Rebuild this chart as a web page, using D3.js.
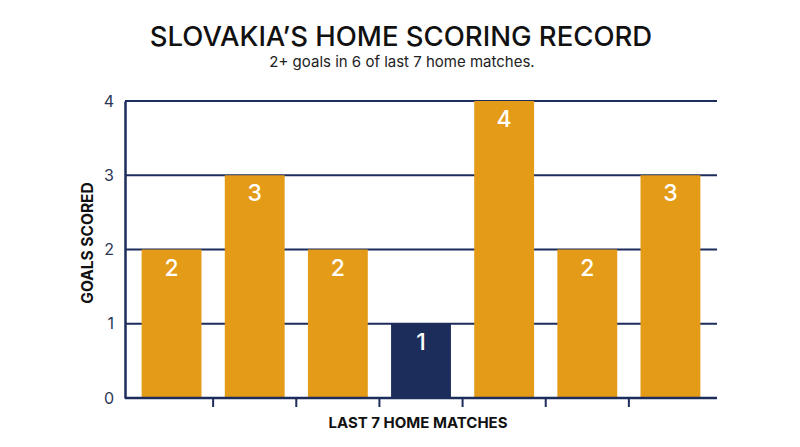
<!DOCTYPE html>
<html>
<head>
<meta charset="utf-8">
<script src="https://cdn.jsdelivr.net/npm/d3@7"></script>
<style>
  body { margin: 0; background: #ffffff; }
  svg { display: block; font-family: Inter, "Open Sans", sans-serif; }
</style>
</head>
<body>
<div id="chart"></div>
<script>
// Chart data
const matchLabels = ["M1", "M2", "M3", "M4", "M5", "M6", "M7"];
const goalsScored = [2, 3, 2, 1, 4, 2, 3];
const yTicks = [0, 1, 2, 3, 4];
const highlightIndex = 3; // the only match below 2 goals

const width = 800, height = 447;
const margin = { top: 101, right: 83, bottom: 49, left: 125 };
const navy = "#1c2d5c";
const orange = "#e39b18";

const svg = d3.select("#chart").append("svg")
    .attr("width", width)
    .attr("height", height);

// titles
svg.append("text")
    .attr("x", 401).attr("y", 46)
    .attr("text-anchor", "middle")
    .style("font-size", "27.5px")
    .style("font-weight", 500)
    .style("fill", "#111")
    .text("SLOVAKIA\u2019S HOME SCORING RECORD");

svg.append("text")
    .attr("x", 402).attr("y", 67)
    .attr("text-anchor", "middle")
    .style("font-size", "15px")
    .style("fill", "#222")
    .text("2+ goals in 6 of last 7 home matches.");

const innerW = width - margin.left - margin.right;
const innerH = height - margin.top - margin.bottom;

const g = svg.append("g")
    .attr("transform", `translate(${margin.left}, ${margin.top})`);

const x = d3.scaleBand()
    .domain(matchLabels)
    .range([0, innerW])
    .paddingInner(0.28)
    .paddingOuter(0.2);

const y = d3.scaleLinear()
    .domain([0, 4])
    .range([innerH, 0]);

// gridlines
g.selectAll("line.grid")
    .data(yTicks.filter(d => d > 0))
    .enter().append("line")
    .attr("class", "grid")
    .attr("x1", 0).attr("x2", innerW)
    .attr("y1", d => y(d)).attr("y2", d => y(d))
    .attr("stroke", navy)
    .attr("stroke-width", 2);

// bars
g.selectAll("rect.bar")
    .data(goalsScored)
    .enter().append("rect")
    .attr("class", "bar")
    .attr("x", (d, i) => x(matchLabels[i]))
    .attr("y", d => y(d))
    .attr("width", x.bandwidth())
    .attr("height", d => y(0) - y(d))
    .attr("fill", (d, i) => i === highlightIndex ? navy : orange);

// value labels
g.selectAll("text.val")
    .data(goalsScored)
    .enter().append("text")
    .attr("class", "val")
    .attr("x", (d, i) => x(matchLabels[i]) + x.bandwidth() / 2)
    .attr("y", d => y(d) + 26)
    .attr("text-anchor", "middle")
    .style("font-size", "23px")
    .style("font-weight", 500)
    .style("fill", "#fff")
    .text(d => d);

// y axis
const yAxis = d3.axisLeft(y).tickValues(yTicks).tickFormat(d3.format("d"))
    .tickSize(0).tickPadding(11);
const yG = g.append("g").call(yAxis);
yG.select(".domain").attr("stroke", navy).attr("stroke-width", 2.5);
yG.selectAll("text")
    .style("font-size", "16px")
    .style("font-family", "Inter, sans-serif")
    .style("fill", "#2a3655");

// x axis: ticks between bands
const step = x.step();
const boundaries = matchLabels.slice(0, -1);
g.append("line")
    .attr("x1", 0).attr("x2", innerW)
    .attr("y1", innerH).attr("y2", innerH)
    .attr("stroke", navy)
    .attr("stroke-width", 2.5);
g.selectAll("line.xtick")
    .data(boundaries)
    .enter().append("line")
    .attr("class", "xtick")
    .attr("x1", d => x(d) + x.bandwidth() + (step - x.bandwidth()) / 2)
    .attr("x2", d => x(d) + x.bandwidth() + (step - x.bandwidth()) / 2)
    .attr("y1", innerH).attr("y2", innerH + 9)
    .attr("stroke", navy)
    .attr("stroke-width", 2);

// axis titles
svg.append("text")
    .attr("x", 418).attr("y", 428)
    .attr("text-anchor", "middle")
    .style("font-size", "15px")
    .style("font-weight", 700)
    .style("fill", "#111")
    .text("LAST 7 HOME MATCHES");

svg.append("text")
    .attr("transform", "translate(93, 243) rotate(-90)")
    .attr("text-anchor", "middle")
    .style("font-size", "15.5px")
    .style("font-weight", 700)
    .style("fill", "#111")
    .text("GOALS SCORED");
</script>
</body>
</html>
